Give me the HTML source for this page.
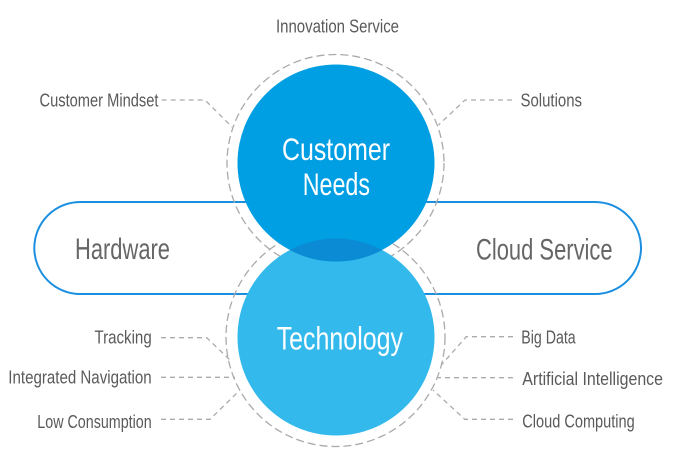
<!DOCTYPE html>
<html>
<head>
<meta charset="utf-8">
<style>
  html,body{margin:0;padding:0;background:#fff;}
  svg{display:block;}
  text{font-family:"Liberation Sans Narrow","Liberation Sans",sans-serif;}
</style>
</head>
<body>
<svg width="673" height="465" viewBox="0 0 673 465" xmlns="http://www.w3.org/2000/svg">
  <rect width="673" height="465" fill="#fff"/>
  <!-- pill -->
  <rect x="34.3" y="202" width="606.7" height="92" rx="46" ry="46" fill="none" stroke="#1a8fe0" stroke-width="2"/>
  <!-- dashed circles -->
  <circle cx="335.5" cy="163" r="108.5" fill="none" stroke="#aaaaaa" stroke-width="1.3" stroke-dasharray="8 4"/>
  <circle cx="335.5" cy="337" r="109.5" fill="none" stroke="#aaaaaa" stroke-width="1.3" stroke-dasharray="8 4"/>
  <!-- connectors -->
  <g fill="none" stroke="#aaaaaa" stroke-width="1.3" stroke-dasharray="5 4">
    <path d="M161.7 100 H205 L232 127"/>
    <path d="M512 100 H465 L438.5 125"/>
    <path d="M161 337.7 H206.7 L231 361"/>
    <path d="M161 377.3 H235"/>
    <path d="M161 419.3 H210 L240 390"/>
    <path d="M513 336.7 H466.3 L441.3 365"/>
    <path d="M513 377.7 H438"/>
    <path d="M513 419.3 H464.7 L433 390"/>
  </g>
  <!-- fills -->
  <circle cx="336" cy="337" r="98.5" fill="#33b9ec"/>
  <circle cx="336" cy="163" r="98.5" fill="#009ee3"/>
  <defs>
    <clipPath id="cb"><circle cx="336" cy="337" r="98.5"/></clipPath>
  </defs>
  <circle cx="336" cy="163" r="98.5" fill="#0a8bd4" clip-path="url(#cb)"/>

  <!-- center texts -->
  <g fill="#ffffff">
    <text x="282" y="160" font-size="31.5" textLength="108" lengthAdjust="spacingAndGlyphs">Customer</text>
    <text x="302.7" y="195" font-size="31.5" textLength="67.3" lengthAdjust="spacingAndGlyphs">Needs</text>
    <text x="276.7" y="349.3" font-size="32" textLength="126.3" lengthAdjust="spacingAndGlyphs">Technology</text>
  </g>
  <g fill="#666666">
    <text x="75" y="259" font-size="29.5" textLength="95" lengthAdjust="spacingAndGlyphs">Hardware</text>
    <text x="476" y="259.3" font-size="29.5" textLength="136.6" lengthAdjust="spacingAndGlyphs">Cloud Service</text>
  </g>
  <!-- labels -->
  <g fill="#5a5a5a" font-size="18.5">
    <text x="276" y="32.3" textLength="123" lengthAdjust="spacingAndGlyphs">Innovation Service</text>
    <text x="39.5" y="106.7" textLength="119" lengthAdjust="spacingAndGlyphs">Customer Mindset</text>
    <text x="520.5" y="106.3" textLength="61.5" lengthAdjust="spacingAndGlyphs">Solutions</text>
    <text x="94.5" y="343.3" textLength="57.2" lengthAdjust="spacingAndGlyphs">Tracking</text>
    <text x="8.3" y="383.3" textLength="143.4" lengthAdjust="spacingAndGlyphs">Integrated Navigation</text>
    <text x="37.3" y="428" textLength="114.4" lengthAdjust="spacingAndGlyphs">Low Consumption</text>
    <text x="521.3" y="343.3" textLength="54.4" lengthAdjust="spacingAndGlyphs">Big Data</text>
    <text x="522.3" y="385" textLength="140.7" lengthAdjust="spacingAndGlyphs">Artificial Intelligence</text>
    <text x="522.3" y="427.3" textLength="112.4" lengthAdjust="spacingAndGlyphs">Cloud Computing</text>
  </g>
</svg>
</body>
</html>
